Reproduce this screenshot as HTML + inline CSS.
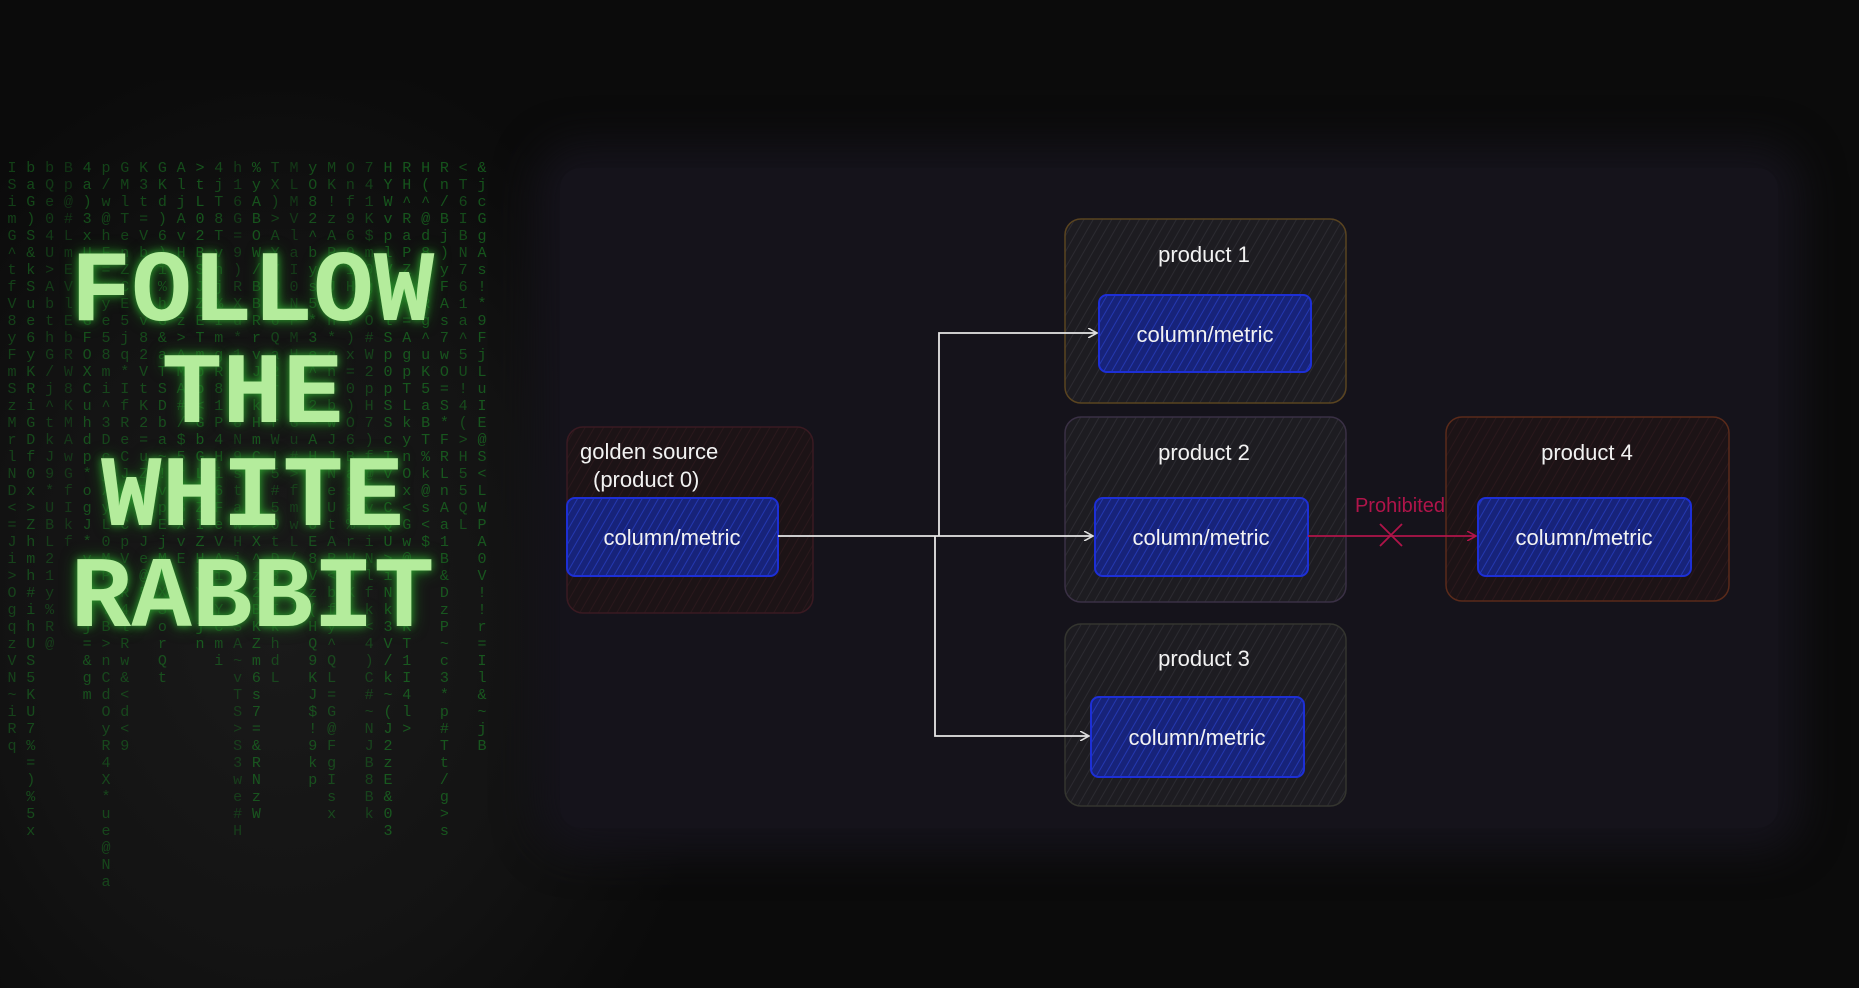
<!DOCTYPE html>
<html><head><meta charset="utf-8"><style>
html,body{margin:0;padding:0;width:1859px;height:988px;overflow:hidden;background:#0b0b0b}
#wrap{position:relative;width:1859px;height:988px}
#bgleft{position:absolute;left:0;top:80px;width:700px;height:908px;background:radial-gradient(ellipse at 40% 60%,#1a1a1a 0%,#131313 45%,#0b0b0b 75%)}
#panel{position:absolute;left:560px;top:168px;width:1218px;height:660px;background:#15131b;box-shadow:0 0 40px 25px #15131b;border-radius:20px}
#rain{position:absolute;left:6px;top:160px;width:490px;height:770px;font-family:"Liberation Mono",monospace;font-size:15px;line-height:17px;color:#1a7a24;}
.col{position:absolute;width:12px;text-align:center;white-space:pre}
.t{position:absolute;left:0;width:505px;text-align:center;font-family:"Liberation Mono",monospace;font-weight:bold;font-size:101px;color:#b4ec9c;text-shadow:0 0 8px #2f9a30,0 0 16px #1c6a1c;line-height:100px;letter-spacing:0px}
svg{position:absolute;left:0;top:0}
</style></head><body><div id="wrap">
<div id="bgleft"></div>
<div id="panel"></div>
<div id="rain"></div>
<div class="t" style="top:244px">FOLLOW</div>
<div class="t" style="top:346px">THE</div>
<div class="t" style="top:449px">WHITE</div>
<div class="t" style="top:550px">RABBIT</div>
<svg width="1859" height="988" font-family="Liberation Sans, sans-serif">
<defs>
<pattern id="hg" width="8" height="8" patternUnits="userSpaceOnUse" patternTransform="rotate(30)"><rect width="8" height="8" fill="#1d1c21"/><line x1="0" y1="0" x2="0" y2="8" stroke="#2c2b31" stroke-width="2"/></pattern>
<pattern id="hr" width="8" height="8" patternUnits="userSpaceOnUse" patternTransform="rotate(30)"><rect width="8" height="8" fill="#1c1316"/><line x1="0" y1="0" x2="0" y2="8" stroke="#2a181c" stroke-width="2"/></pattern>
<pattern id="hb" width="7" height="7" patternUnits="userSpaceOnUse" patternTransform="rotate(30)"><rect width="7" height="7" fill="#17237a"/><line x1="0" y1="0" x2="0" y2="7" stroke="#2438b0" stroke-width="2"/></pattern>
<marker id="aw" markerWidth="10" markerHeight="10" refX="9" refY="5" orient="auto" markerUnits="userSpaceOnUse"><path d="M0,0 L9,5 L0,10" fill="none" stroke="#ddd" stroke-width="1.6"/></marker>
<marker id="ar" markerWidth="10" markerHeight="10" refX="9" refY="5" orient="auto" markerUnits="userSpaceOnUse"><path d="M0,0 L9,5 L0,10" fill="none" stroke="#b0144a" stroke-width="1.6"/></marker>
</defs>
<rect x="567" y="427" width="246" height="186" rx="16" fill="url(#hr)" stroke="#3a1a22" stroke-width="1.5"/>
<rect x="1065" y="219" width="281" height="184" rx="16" fill="url(#hg)" stroke="#5a4420" stroke-width="1.5"/>
<rect x="1065" y="417" width="281" height="185" rx="16" fill="url(#hg)" stroke="#3a3045" stroke-width="1.5"/>
<rect x="1065" y="624" width="281" height="182" rx="16" fill="url(#hg)" stroke="#34352f" stroke-width="1.5"/>
<rect x="1446" y="417" width="283" height="184" rx="16" fill="url(#hr)" stroke="#5a2a1a" stroke-width="1.5"/>
<g stroke="#1d2fd6" stroke-width="2">
<rect x="567" y="498" width="211" height="78" rx="8" fill="url(#hb)"/>
<rect x="1099" y="295" width="212" height="77" rx="8" fill="url(#hb)"/>
<rect x="1095" y="498" width="213" height="78" rx="8" fill="url(#hb)"/>
<rect x="1091" y="697" width="213" height="80" rx="8" fill="url(#hb)"/>
<rect x="1478" y="498" width="213" height="78" rx="8" fill="url(#hb)"/>
</g>
<g fill="#f2f2f2" font-size="22" text-anchor="middle">
<text x="672" y="545">column/metric</text>
<text x="1205" y="342">column/metric</text>
<text x="1201" y="545">column/metric</text>
<text x="1197" y="745">column/metric</text>
<text x="1584" y="545">column/metric</text>
<text x="1204" y="262">product 1</text>
<text x="1204" y="460">product 2</text>
<text x="1204" y="666">product 3</text>
<text x="1587" y="460">product 4</text>
<text x="580" y="459" text-anchor="start">golden source</text>
<text x="593" y="487" text-anchor="start">(product 0)</text>
</g>
<g stroke="#e6e6e6" stroke-width="1.8" fill="none">
<line x1="778" y1="536" x2="1093" y2="536" marker-end="url(#aw)"/>
<path d="M939,536 L939,333 L1097,333" marker-end="url(#aw)"/>
<path d="M935,536 L935,736 L1089,736" marker-end="url(#aw)"/>
</g>
<line x1="1308" y1="536" x2="1476" y2="536" stroke="#b0144a" stroke-width="1.8" marker-end="url(#ar)"/>
<path d="M1380,524 L1402,546 M1402,524 L1380,546" stroke="#b0144a" stroke-width="1.8"/>
<text x="1400" y="512" fill="#b0144a" font-size="20" text-anchor="middle">Prohibited</text>
</svg>
</div>
<script>
var s=7;function r(){s=(s*9301+49297)%233280;return s/233280;}
var ch="ABCDEFGHIJKLMNOPQRSTUVWXYZabcdefghijklmnopqrstuvwxyz0123456789!@#$%^&*()<>=~/";
var rain=document.getElementById('rain'),h='';
for(var i=0;i<26;i++){var x=i*18.8;var top=Math.floor(r()*60)+(i>5&&i<20?0:60);var n=22+Math.floor(r()*24);
var t='';for(var j=0;j<n;j++)t+=ch[Math.floor(r()*ch.length)]+'\n';
h+='<div class="col" style="left:'+x+'px;top:'+top+'px;opacity:'+(0.35+r()*0.35)+'">'+t+'</div>';}
rain.innerHTML=h;
</script>
</body></html>
